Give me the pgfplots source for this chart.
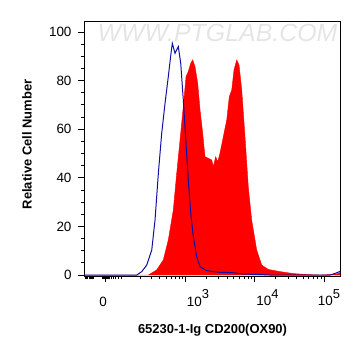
\documentclass[border=0pt]{standalone}
\usepackage{pgfplots}
\pgfplotsset{compat=1.18}
\usepackage{fontspec}
\setmainfont{Liberation Sans}
\definecolor{histred}{RGB}{255,0,0}
\definecolor{histblue}{RGB}{15,15,165}
\begin{document}
\begin{tikzpicture}
\useasboundingbox (0,0) rectangle (361bp,356bp);
\node[text=gray!20, font=\fontsize{25}{25}\selectfont\itshape] at (217.5bp,323.5bp) {WWW.PTGLAB.COM};
\begin{axis}[
  at={(84bp,80bp)}, anchor=south west,
  scale only axis, width=256bp, height=255bp,
  xmin=1.542, xmax=5.226, ymin=-0.4, ymax=104.5,
  axis line style={line width=0.8pt},
  tick style={black, line width=0.8pt},
  tick align=outside,
  xtick pos=bottom, ytick pos=left,
  major tick length=6bp, minor tick length=3.5bp,
  xtick={3,4,5},
  xticklabels={10\raisebox{7.5bp}{\fontsize{13}{13}\selectfont 3},10\raisebox{7.5bp}{\fontsize{13}{13}\selectfont 4},\hspace{-8bp}10\raisebox{7.5bp}{\fontsize{13}{13}\selectfont 5}},
  xticklabel style={anchor=north west, xshift=-2bp, yshift=-4bp},
  extra x ticks={1.845},
  extra x tick labels={0},
  extra x tick style={xticklabel style={anchor=north, xshift=0bp, yshift=-8bp}},
  minor xtick={1.565,1.58,1.595,1.614,1.63,1.645,1.66,1.68,1.80,1.81,1.82,1.83,1.86,1.87,1.88,1.89,1.91,1.94,1.97,2.0,2.03,2.076,
     2.354,2.517,2.632,2.722,2.795,2.857,2.910,2.957,
     3.301,3.477,3.602,3.699,3.778,3.845,3.903,3.954,
     4.301,4.477,4.602,4.699,4.778,4.845,4.903,4.954},
  ytick={0,20,40,60,80,100},
  minor ytick={5,10,15,25,30,35,45,50,55,65,70,75,85,90,95},
  yticklabel style={anchor=east, xshift=-3bp},
  /pgf/number format/assume math mode=true,
  ticklabel style={font=\fontsize{13.5}{14}\selectfont},
  xlabel={65230-1-Ig CD200(OX90)},
  ylabel={Relative Cell Number},
  label style={font=\fontsize{13}{14}\selectfont\bfseries},
  xlabel style={at={(axis description cs:0.502,-0.212)}, anchor=center},
  ylabel style={at={(axis description cs:-0.223,0.516)}, anchor=center, rotate=0},
  clip=true,
]
\addplot[fill=histred, draw=histred, line width=0.4pt] coordinates {
(1.542,0) (2.468,0) (2.588,2.1) (2.683,6.2) (2.755,14.4) (2.827,26.7) (2.876,41.8)
(2.924,55.6) (2.971,69.3) (3.010,81.6) (3.043,83.7) (3.078,87.1) (3.106,88.5)
(3.140,85.7) (3.178,78.9) (3.212,67.9) (3.250,58.3) (3.283,48.7) (3.331,48.0)
(3.380,47.3) (3.403,44.6) (3.437,48.7) (3.466,46.6) (3.499,50.1) (3.547,56.9)
(3.596,63.8) (3.633,73.4) (3.668,76.1) (3.701,84.4) (3.740,88.5) (3.773,86.4)
(3.812,76.1) (3.859,56.9) (3.906,36.3) (3.955,22.6) (4.027,10.3) (4.099,4.1)
(4.194,2.3) (4.363,1.4) (4.554,0.6) (4.747,0.2) (4.938,0) (5.168,0.3) (5.226,1.0) (5.226,0)
} \closedcycle;
\addplot[histblue, line width=1pt] coordinates {
(1.542,0) (2.301,0) (2.373,1.4) (2.445,4.1) (2.517,10.3) (2.564,22.6) (2.612,41.8)
(2.660,58.3) (2.708,70.6) (2.755,81.6) (2.794,91.2) (2.813,95.3) (2.852,91.2)
(2.899,94.0) (2.934,87.1) (2.971,72.0) (3.010,54.2) (3.043,39.1) (3.078,25.4)
(3.115,15.8) (3.164,7.5) (3.212,3.4) (3.308,1.8) (3.499,1.1) (3.668,1.0)
(3.835,0.4) (4.075,0.2) (4.219,0) (5.082,0) (5.168,0.8) (5.226,1.5)
};
\end{axis}
\end{tikzpicture}
\end{document}
